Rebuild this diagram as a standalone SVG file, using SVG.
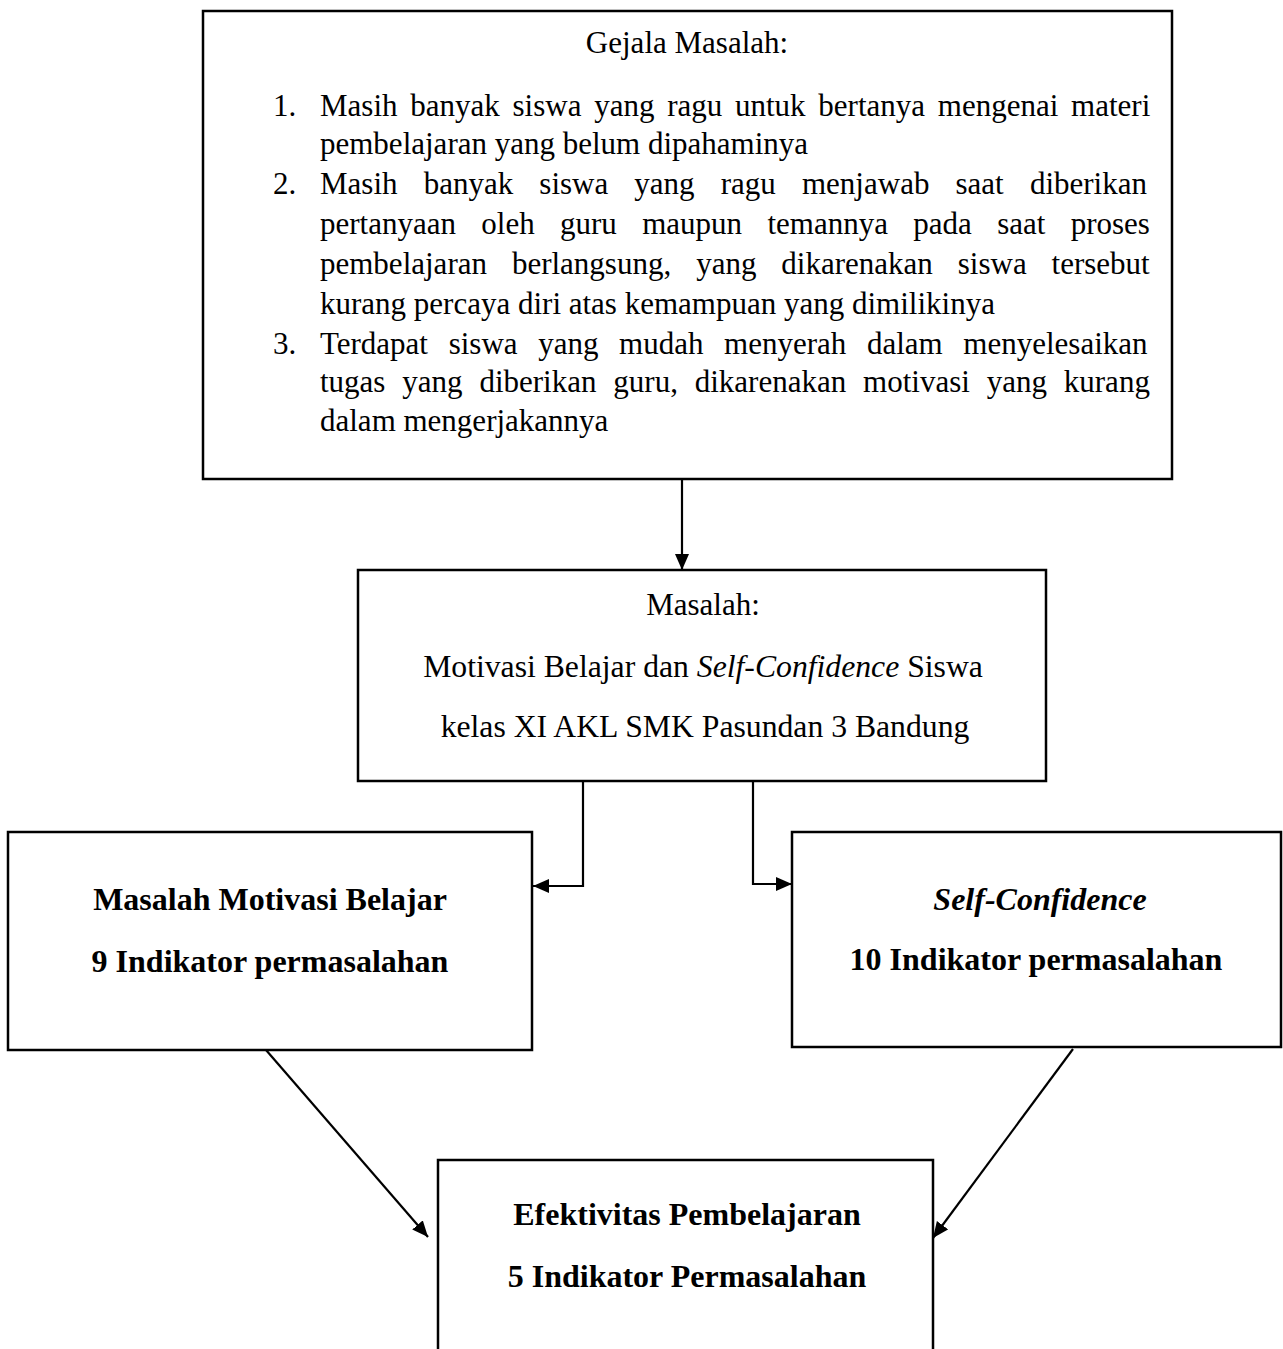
<svg xmlns="http://www.w3.org/2000/svg" width="1283" height="1349" viewBox="0 0 1283 1349">
<style>
.box{fill:#fff;stroke:#000;stroke-width:2.5}
.t{font-family:"Liberation Serif","Times New Roman",serif;font-size:31px;fill:#000}
.c{text-anchor:middle}
.b{font-weight:bold;font-size:32px}
.m{font-size:31.7px}
.conn{fill:none;stroke:#000;stroke-width:2.2}
</style>
<defs>
<marker id="ah" markerUnits="userSpaceOnUse" markerWidth="17" markerHeight="15" refX="16" refY="7" orient="auto">
<path d="M0,0 L16,7 L0,14 z" fill="#000"/>
</marker>
</defs>
<rect width="1283" height="1349" fill="#fff"/>
<g id="gejala">
<rect class="box" x="203" y="11" width="969" height="468"/>
<text class="t c" x="687" y="53">Gejala Masalah:</text>
<text class="t" x="273" y="116">1.</text>
<text class="t" x="320" y="116" word-spacing="5">Masih banyak siswa yang ragu untuk bertanya mengenai materi</text>
<text class="t" x="320" y="154">pembelajaran yang belum dipahaminya</text>
<text class="t" x="273" y="194">2.</text>
<text class="t" x="320" y="194" word-spacing="18.4">Masih banyak siswa yang ragu menjawab saat diberikan</text>
<text class="t" x="320" y="234" word-spacing="17.6">pertanyaan oleh guru maupun temannya pada saat proses</text>
<text class="t" x="320" y="274" word-spacing="17.2">pembelajaran berlangsung, yang dikarenakan siswa tersebut</text>
<text class="t" x="320" y="314">kurang percaya diri atas kemampuan yang dimilikinya</text>
<text class="t" x="273" y="354">3.</text>
<text class="t" x="320" y="354" word-spacing="12.9">Terdapat siswa yang mudah menyerah dalam menyelesaikan</text>
<text class="t" x="320" y="392" word-spacing="9.1">tugas yang diberikan guru, dikarenakan motivasi yang kurang</text>
<text class="t" x="320" y="431">dalam mengerjakannya</text>
</g>
<g id="masalah">
<rect class="box" x="358" y="570" width="688" height="211"/>
<text class="t c" x="703" y="615">Masalah:</text>
<text class="t c m" x="703" y="677">Motivasi Belajar dan <tspan font-style="italic">Self-Confidence</tspan> Siswa</text>
<text class="t c m" x="705" y="737">kelas XI AKL SMK Pasundan 3 Bandung</text>
</g>
<g id="motivasi">
<rect class="box" x="8" y="832" width="524" height="218"/>
<text class="t c b" x="270" y="910">Masalah Motivasi Belajar</text>
<text class="t c b" x="270" y="972">9 Indikator permasalahan</text>
</g>
<g id="selfconfidence">
<rect class="box" x="792" y="832" width="489" height="215"/>
<text class="t c b" x="1040" y="910" font-style="italic">Self-Confidence</text>
<text class="t c b" x="1036" y="970">10 Indikator permasalahan</text>
</g>
<g id="efektivitas">
<rect class="box" x="438" y="1160" width="495" height="195"/>
<text class="t c b" x="687" y="1225">Efektivitas Pembelajaran</text>
<text class="t c b" x="687" y="1287">5 Indikator Permasalahan</text>
</g>
<g id="connectors">
<path class="conn" d="M682,479 V570" marker-end="url(#ah)"/>
<path class="conn" d="M583,781 V886 H533" marker-end="url(#ah)"/>
<path class="conn" d="M753,781 V884 H792" marker-end="url(#ah)"/>
<path class="conn" d="M266,1050 L428,1237" marker-end="url(#ah)"/>
<path class="conn" d="M1073,1049 L933,1238" marker-end="url(#ah)"/>
</g>
</svg>
